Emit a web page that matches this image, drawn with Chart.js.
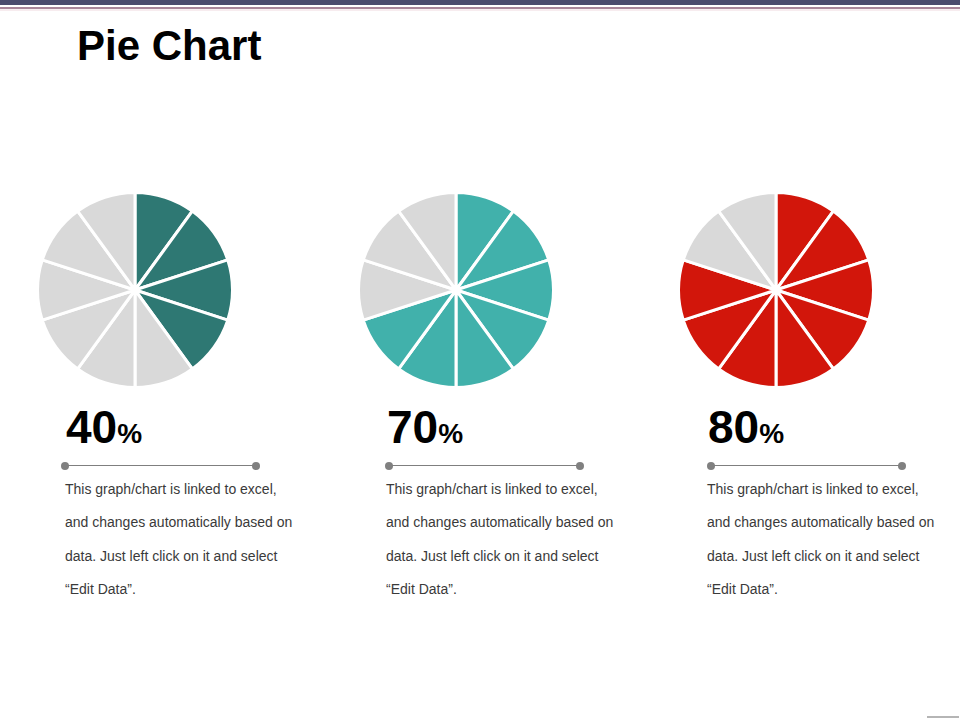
<!DOCTYPE html>
<html>
<head>
<meta charset="utf-8">
<script src="https://cdn.jsdelivr.net/npm/chart.js@4.4.0/dist/chart.umd.min.js"></script>
<style>
  html, body { margin:0; padding:0; background:#fff; }
  body { width:960px; height:720px; position:relative; overflow:hidden; font-family:"Liberation Sans", Arial, sans-serif; }
  .bar-top { position:absolute; left:0; top:0; width:960px; height:5px; background:#4a4b6d; }
  .bar-line { position:absolute; left:0; top:7px; width:960px; height:2px; background:#a9869a; }
  .bar-fade { position:absolute; left:0; top:9px; width:960px; height:2px; background:#f7ecef; }
  h1 { position:absolute; left:77px; top:22px; margin:0; font-size:42px; font-weight:bold; color:#000; letter-spacing:0px; }
  .pie { position:absolute; width:198px; height:198px; }
  .pct { position:absolute; top:400px; font-weight:bold; color:#000; white-space:nowrap; }
  .pct .num { font-size:46px; }
  .pct .sym { font-size:28px; }
  .rule { position:absolute; top:465px; height:1px; background:#7f7f7f; }
  .dot { position:absolute; top:462px; width:8px; height:8px; border-radius:50%; background:#808080; }
  .desc { position:absolute; top:473px; font-size:14px; color:#3a3a3a; line-height:33.3px; white-space:nowrap; }
  .corner { position:absolute; left:927px; top:716px; width:32px; height:2px; background:#b5b5b5; }
</style>
</head>
<body>
<div class="bar-top"></div>
<div class="bar-line"></div>
<div class="bar-fade"></div>
<h1>Pie Chart</h1>
<div id="root"></div>
<div class="corner"></div>
<script>
// ---- data ----
const percentValues = [40, 70, 80];
const percentLabels = ["40", "70", "80"];
const sliceLabels = ["1","2","3","4","5","6","7","8","9","10"];
const pie1Slices = [10, 10, 10, 10, 10, 10, 10, 10, 10, 10];
const pie2Slices = [10, 10, 10, 10, 10, 10, 10, 10, 10, 10];
const pie3Slices = [10, 10, 10, 10, 10, 10, 10, 10, 10, 10];
const descLines = [
  "This graph/chart is linked to excel,",
  "and changes automatically based on",
  "data. Just left click on it and select",
  "\u201cEdit Data\u201d."
];

// ---- styles ----
const fillColors = ["#2e7873", "#41b1ab", "#d2160b"];
const restColor = "#d9d9d9";
const pieCenters = [[135, 290], [456, 290], [776, 290]];
const textLeft = [65, 386, 707];
const ruleSpans = [[65, 256], [389, 580], [711, 902]];
const allSlices = [pie1Slices, pie2Slices, pie3Slices];

const root = document.getElementById("root");
allSlices.forEach((slices, i) => {
  const wrap = document.createElement("div");
  wrap.className = "pie";
  wrap.style.left = (pieCenters[i][0] - 99) + "px";
  wrap.style.top = (pieCenters[i][1] - 99) + "px";
  const cv = document.createElement("canvas");
  cv.width = 198; cv.height = 198;
  cv.style.width = "198px"; cv.style.height = "198px";
  wrap.appendChild(cv);
  root.appendChild(wrap);

  let acc = 0;
  const colors = slices.map(v => {
    acc += v;
    return acc <= percentValues[i] ? fillColors[i] : restColor;
  });

  new Chart(cv.getContext("2d"), {
    type: "pie",
    data: {
      labels: sliceLabels,
      datasets: [{
        data: slices,
        backgroundColor: colors,
        borderColor: "#ffffff",
        borderWidth: 3
      }]
    },
    options: {
      responsive: false,
      animation: false,
      devicePixelRatio: 1,
      layout: { padding: 0 },
      plugins: { legend: { display: false }, tooltip: { enabled: false } }
    }
  });

  const pct = document.createElement("div");
  pct.className = "pct";
  pct.style.left = (textLeft[i] + 1) + "px";
  pct.innerHTML = '<span class="num">' + percentLabels[i] + '</span><span class="sym">%</span>';
  root.appendChild(pct);

  const rule = document.createElement("div");
  rule.className = "rule";
  rule.style.left = ruleSpans[i][0] + "px";
  rule.style.width = (ruleSpans[i][1] - ruleSpans[i][0]) + "px";
  root.appendChild(rule);
  ruleSpans[i].forEach(x => {
    const d = document.createElement("div");
    d.className = "dot";
    d.style.left = (x - 4) + "px";
    root.appendChild(d);
  });

  const desc = document.createElement("div");
  desc.className = "desc";
  desc.style.left = textLeft[i] + "px";
  desc.innerHTML = descLines.join("<br>");
  root.appendChild(desc);
});
</script>
</body>
</html>
